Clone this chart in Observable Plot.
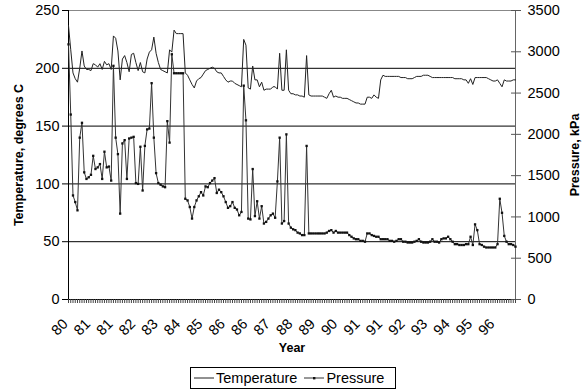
<!DOCTYPE html>
<html><head><meta charset="utf-8">
<script src="https://cdn.jsdelivr.net/npm/d3@7"></script>
<script src="https://cdn.jsdelivr.net/npm/@observablehq/plot@0.6"></script>
<style>
body{margin:0;background:#fff;font-family:"Liberation Sans",Arial,sans-serif;}
#wrap{position:relative;width:585px;height:392px;overflow:hidden;}
#legend{position:absolute;left:190px;top:367px;height:22px;width:206px;border:1px solid #000;display:flex;align-items:center;font-size:14.5px;padding:0 0 0 2px;box-sizing:border-box;background:#fff;}
#legend span{margin-right:6px;}
#legend svg{margin-right:1px;}
</style></head><body>
<div id="wrap"><div id="chart"></div><div id="legend"></div></div>
<script>
const yearLabels = ["80","81","81","82","83","84","85","86","86","87","88","89","90","91","91","92","93","94","95","96"];
const seriesNames = ["Temperature", "Pressure"];
const temperature = [
237,216,196,191,188,200,215,202,199,199,198,204,203,201,204,199,206,203,204,199,
228,226,215,190,208,211,205,197,212,213,205,198,205,197,196,208,214,216,227,213,
205,199,198,197,196,216,214,233,230,230,230,230,196,194,190,186,183,189,191,192,
195,198,199,200,201,200,197,196,196,193,190,188,189,189,187,186,185,184,225,220,
183,182,202,190,190,184,188,181,182,182,182,184,184,182,213,181,181,216,181,178,
178,177,177,176,176,175,211,177,176,176,176,176,176,176,175,174,178,181,175,176,
175,175,174,174,174,173,172,171,170,170,169,169,169,175,175,174,177,175,174,190,
194,193,193,193,193,193,193,193,192,192,192,191,191,191,192,193,193,193,194,194,
194,193,192,192,192,192,192,192,192,192,192,192,191,191,191,191,190,190,187,191,
186,192,192,192,192,192,192,191,190,189,189,190,187,184,190,189,189,189,190,190];
const pressure = [
3090,2240,1260,1180,1080,1960,2140,1540,1460,1480,1510,1740,1580,1600,1640,1460,1790,1600,1610,1440,
2830,1960,1760,1040,1890,1930,1460,1950,1960,1970,1410,1400,1850,1320,1860,2060,2070,2620,1960,1530,
1410,1390,1370,1360,2160,1900,2970,2740,2740,2740,2740,2740,1220,1200,1120,980,1120,1200,1250,1300,
1260,1370,1360,1410,1440,1470,1290,1330,1300,1250,1180,1110,1130,1180,1110,1090,1020,1060,2590,2170,
980,970,1580,1010,1190,980,1130,920,940,980,1020,1040,990,1430,1960,920,950,2000,920,870,
850,840,810,800,780,780,1860,800,800,800,800,800,800,800,800,810,830,840,810,830,
810,810,810,810,810,780,760,740,730,730,710,710,700,800,800,780,770,760,760,730,
730,730,730,710,710,700,710,730,730,700,700,690,690,690,700,710,730,700,690,690,
690,700,730,700,700,690,730,740,740,760,730,700,670,670,660,660,660,670,670,760,
660,910,840,670,660,640,630,630,630,630,630,670,1220,1050,770,700,670,670,660,640];
const leftTicks = [0, 50, 100, 150, 200, 250];
const rightTicks = [0, 500, 1000, 1500, 2000, 2500, 3000, 3500];
const gridValues = [50, 100, 150, 200];

const TMAX = 250, PMAX = 3500;
const toLeft = p => p * TMAX / PMAX;
const idx = d3.range(temperature.length);
const rows = idx.map(i => ({i, t: temperature[i], p: pressure[i]}));
const labelIdx = yearLabels.map((_, k) => k * 10);

const chart = Plot.plot({
  width: 585, height: 365,
  marginLeft: 68, marginRight: 70, marginTop: 10, marginBottom: 66,
  style: {fontFamily: "'Liberation Sans', Arial, sans-serif", fontSize: "14.5px", color: "#000", background: "#fff"},
  x: {domain: [0, idx.length - 1]},
  y: {domain: [0, TMAX]},
  marks: [
    Plot.ruleY(gridValues, {stroke: "#000", strokeWidth: 1}),
    Plot.ruleY([TMAX], {stroke: "#888", strokeWidth: 1}),
    Plot.ruleY([0], {stroke: "#000"}),
    Plot.ruleX([0], {stroke: "#000"}),
    Plot.ruleX([idx.length - 1], {stroke: "#666"}),
    Plot.axisY(leftTicks, {anchor: "left", tickSize: 6, tickPadding: 3, label: "Temperature, degrees C", labelAnchor: "center", labelOffset: 54, labelArrow: "none"}),
    Plot.axisY(rightTicks.map(toLeft), {anchor: "right", tickSize: 10, insetRight: 5, tickPadding: 7, stroke: "#555", tickFormat: (d, k) => String(rightTicks[k]), label: "Pressure, kPa", labelAnchor: "center", labelOffset: 63, labelArrow: "none"}),
    Plot.axisX(idx, {tickSize: 4, tickFormat: () => "", label: "Year", labelAnchor: "center", labelOffset: 52, labelArrow: "none", stroke: "#444"}),
    Plot.axisX(labelIdx, {tickSize: 0, tickRotate: -45, tickPadding: 22, dx: -3, tickFormat: (d, k) => yearLabels[k], label: null}),
    Plot.line(rows, {x: "i", y: "t", stroke: "#222", strokeWidth: 1}),
    Plot.line(rows, {x: "i", y: d => toLeft(d.p), stroke: "#333", strokeWidth: 1}),
    Plot.dot(rows, {x: "i", y: d => toLeft(d.p), r: 1.3, symbol: "square", fill: "#111", stroke: null})
  ]
});
document.getElementById("chart").appendChild(chart);
d3.select(chart).selectAll('g[aria-label$="axis label"] text').style("font-weight", "bold").style("font-size", "12.5px");

const lg = document.getElementById("legend");
lg.innerHTML =
  `<svg width="22" height="10"><line x1="1" y1="5" x2="21" y2="5" stroke="#222"/></svg><span>${seriesNames[0]}</span>` +
  `<svg width="22" height="10"><line x1="1" y1="5" x2="21" y2="5" stroke="#333"/><rect x="10" y="4" width="2.4" height="2.4" fill="#111"/></svg><span style="margin-right:0">${seriesNames[1]}</span>`;
</script>
</body></html>
